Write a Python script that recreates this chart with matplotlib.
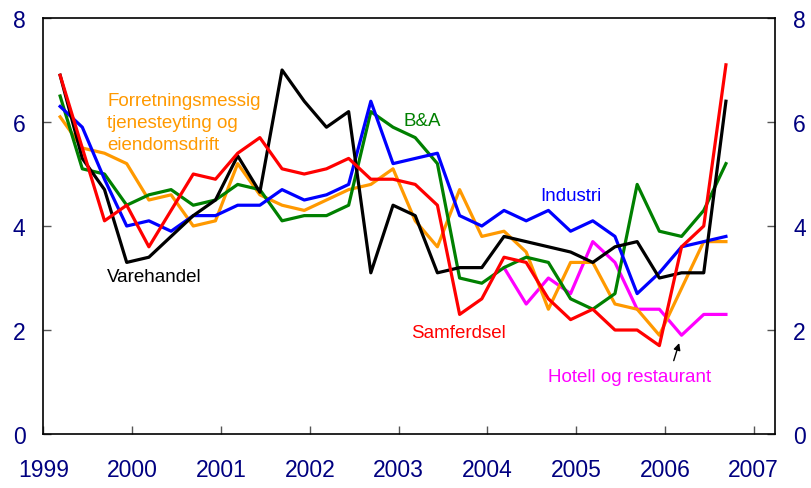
import matplotlib
matplotlib.use("Agg")
import matplotlib.pyplot as plt
import numpy as np

plt.rcParams['font.family'] = ['Liberation Sans', 'DejaVu Sans']

# quarterly, 1999Q1 - 2006Q3
quarters = np.arange(31)
xpos = 1999 + (quarters + 0.75) / 4.0

varehandel = [6.9, 5.3, 4.7, 3.3, 3.4, 3.8, 4.2, 4.5, 5.35, 4.65, 7.0, 6.4, 5.9, 6.2, 3.1, 4.4,
              4.2, 3.1, 3.2, 3.2, 3.8, 3.7, 3.6, 3.5, 3.3, 3.6, 3.7, 3.0, 3.1, 3.1, 6.4]
industri = [6.3, 5.9, 4.9, 4.0, 4.1, 3.9, 4.2, 4.2, 4.4, 4.4, 4.7, 4.5, 4.6, 4.8, 6.4, 5.2,
            5.3, 5.4, 4.2, 4.0, 4.3, 4.1, 4.3, 3.9, 4.1, 3.8, 2.7, 3.1, 3.6, 3.7, 3.8]
bygg = [6.5, 5.1, 5.0, 4.4, 4.6, 4.7, 4.4, 4.5, 4.8, 4.7, 4.1, 4.2, 4.2, 4.4, 6.2, 5.9,
        5.7, 5.2, 3.0, 2.9, 3.2, 3.4, 3.3, 2.6, 2.4, 2.7, 4.8, 3.9, 3.8, 4.3, 5.2]
samferdsel = [6.9, 5.5, 4.1, 4.4, 3.6, 4.3, 5.0, 4.9, 5.4, 5.7, 5.1, 5.0, 5.1, 5.3, 4.9, 4.9,
              4.8, 4.4, 2.3, 2.6, 3.4, 3.3, 2.6, 2.2, 2.4, 2.0, 2.0, 1.7, 3.6, 4.0, 7.1]
forretning = [6.1, 5.5, 5.4, 5.2, 4.5, 4.6, 4.0, 4.1, 5.2, 4.6, 4.4, 4.3, 4.5, 4.7, 4.8, 5.1,
              4.1, 3.6, 4.7, 3.8, 3.9, 3.5, 2.4, 3.3, 3.3, 2.5, 2.4, 1.9, 2.8, 3.7, 3.7]
# from 2004Q1
hotell = [3.2, 2.5, 3.0, 2.7, 3.7, 3.3, 2.4, 2.4, 1.9, 2.3, 2.3]

navy = '#000080'
lw = 2.3

fig = plt.figure(figsize=(8.11, 4.89), dpi=100)
ax = fig.add_axes([0.0536, 0.1104, 0.9020, 0.8507])

ax.plot(xpos[20:], hotell, color='#ff00ff', lw=lw)
ax.plot(xpos, forretning, color='#ff9900', lw=lw)
ax.plot(xpos, bygg, color='#008000', lw=lw)
ax.plot(xpos, industri, color='#0000ff', lw=lw)
ax.plot(xpos, varehandel, color='black', lw=lw)
ax.plot(xpos, samferdsel, color='#ff0000', lw=lw)

ax.set_xlim(1999, 2007.24)
ax.set_ylim(0, 8)
ax.set_xticks(range(1999, 2008))
ax.set_yticks([0, 2, 4, 6, 8])

ax.tick_params(axis='both', direction='in', length=6, width=1, color='#555555',
               labelsize=16.5, labelcolor=navy)
ax.tick_params(axis='y', right=True, labelright=True, pad=13)
ax.tick_params(axis='x', pad=17)
for s in ax.spines.values():
    s.set_linewidth(1.2)

fs = 13.5
ax.text(1999.72, 6.57, "Forretningsmessig\ntjenesteyting og\neiendomsdrift",
        color='#ff9900', fontsize=fs, va='top', ha='left', linespacing=1.38)
ax.text(1999.72, 3.02, "Varehandel", color='black', fontsize=fs, va='center')
ax.text(2003.05, 6.02, "B&A", color='#008000', fontsize=fs, va='center')
ax.text(2004.6, 4.58, "Industri", color='#0000ff', fontsize=fs, va='center')
ax.text(2003.14, 1.96, "Samferdsel", color='#ff0000', fontsize=fs, va='center')
ax.text(2004.68, 1.10, "Hotell og restaurant", color='#ff00ff', fontsize=fs, va='center')

ax.annotate("", xy=(2006.17, 1.80), xytext=(2006.09, 1.36),
            arrowprops=dict(arrowstyle='-|>', color='black', lw=1, mutation_scale=10))

fig.savefig("out.png", dpi=100)
